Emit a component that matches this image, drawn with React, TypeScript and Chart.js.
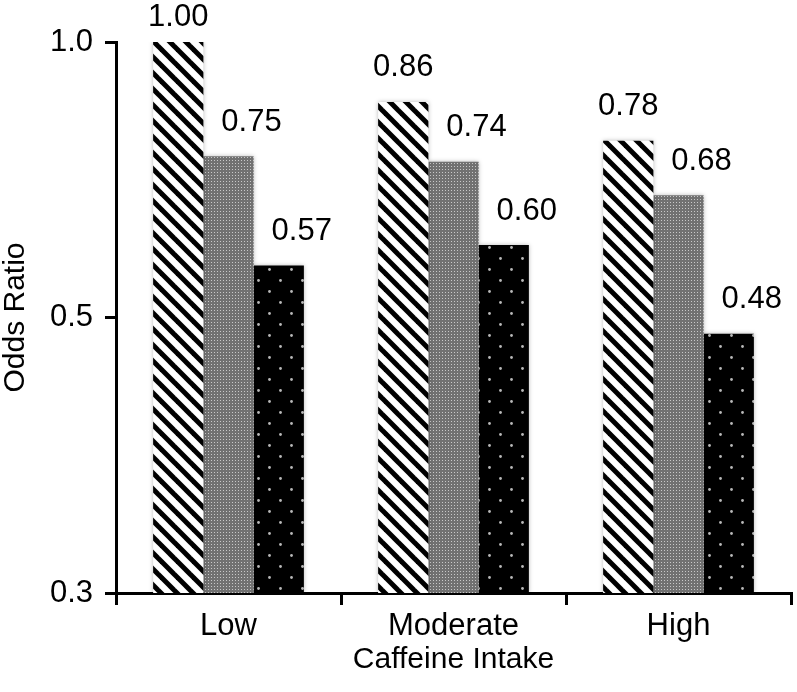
import { useEffect, useRef } from "react";
import { Chart, registerables } from "chart.js";

Chart.register(...registerables);

const categories = ["Low", "Moderate", "High"];
const series1 = [1.0, 0.86, 0.78];
const series2 = [0.75, 0.74, 0.68];
const series3 = [0.57, 0.6, 0.48];
const yTickValues = [0.25, 0.5, 1.0];
const yTickLabels = ["0.3", "0.5", "1.0"];

const FONT = "'Liberation Sans', Arial, Helvetica, sans-serif";

function makeStripes(): CanvasPattern | string {
  const P = 16;
  const c = document.createElement("canvas");
  c.width = P;
  c.height = P;
  const g = c.getContext("2d");
  if (!g) return "#fff";
  g.fillStyle = "#ffffff";
  g.fillRect(0, 0, P, P);
  g.strokeStyle = "#000000";
  g.lineWidth = 5;
  for (let k = -2; k <= 2; k++) {
    g.beginPath();
    g.moveTo(-P, -P + k * P);
    g.lineTo(2 * P, 2 * P + k * P);
    g.stroke();
  }
  return g.createPattern(c, "repeat") || "#fff";
}

function makeGrey(): CanvasPattern | string {
  const c = document.createElement("canvas");
  c.width = 3;
  c.height = 3;
  const g = c.getContext("2d");
  if (!g) return "#888";
  g.fillStyle = "#717171";
  g.fillRect(0, 0, 3, 3);
  g.fillStyle = "#c8c8c8";
  g.fillRect(1, 1, 1, 1);
  return g.createPattern(c, "repeat") || "#888";
}

function makeDots(): CanvasPattern | string {
  const S = 22;
  const c = document.createElement("canvas");
  c.width = S;
  c.height = S;
  const g = c.getContext("2d");
  if (!g) return "#000";
  g.fillStyle = "#000000";
  g.fillRect(0, 0, S, S);
  g.fillStyle = "#b8b8b8";
  g.beginPath();
  g.arc(5.5, 5.5, 1.4, 0, Math.PI * 2);
  g.fill();
  g.beginPath();
  g.arc(16.5, 16.5, 1.4, 0, Math.PI * 2);
  g.fill();
  return g.createPattern(c, "repeat") || "#000";
}

const barShadow = {
  id: "barShadow",
  beforeDatasetsDraw(chart: any) {
    const ctx = chart.ctx;
    ctx.save();
    ctx.shadowColor = "rgba(0,0,0,0.28)";
    ctx.shadowBlur = 4;
    ctx.shadowOffsetX = 0;
    ctx.shadowOffsetY = 0;
  },
  afterDatasetsDraw(chart: any) {
    chart.ctx.restore();
  },
};

const valueLabels = {
  id: "valueLabels",
  afterDatasetsDraw(chart: any) {
    const ctx = chart.ctx;
    ctx.save();
    ctx.shadowColor = "transparent";
    ctx.shadowBlur = 0;
    ctx.font = `31px ${FONT}`;
    ctx.fillStyle = "#000";
    ctx.textAlign = "center";
    ctx.textBaseline = "middle";
    chart.data.datasets.forEach((ds: any, i: number) => {
      const meta = chart.getDatasetMeta(i);
      const dx = i === 0 ? 0 : 23;
      meta.data.forEach((el: any, j: number) => {
        const v = ds.data[j] as number;
        const y = Math.max(el.y - 34, 17);
        ctx.fillText(v.toFixed(2), el.x + dx, y);
      });
    });
    ctx.restore();
  },
};

export default function App() {
  const ref = useRef<HTMLCanvasElement | null>(null);

  useEffect(() => {
    if (!ref.current) return;
    Chart.defaults.font.family = FONT;
    const chart = new Chart(ref.current, {
      type: "bar",
      data: {
        labels: categories,
        datasets: [
          { label: "Series 1", data: series1, backgroundColor: makeStripes() as any, borderWidth: 0 },
          { label: "Series 2", data: series2, backgroundColor: makeGrey() as any, borderWidth: 0 },
          { label: "Series 3", data: series3, backgroundColor: makeDots() as any, borderWidth: 0 },
        ],
      },
      options: {
        animation: false,
        responsive: false,
        devicePixelRatio: 1,
        layout: { padding: { top: 42, right: 6, bottom: 0, left: 0 } },
        plugins: { legend: { display: false }, tooltip: { enabled: false } },
        datasets: { bar: { categoryPercentage: 0.67, barPercentage: 1.0 } },
        scales: {
          x: {
            type: "category",
            offset: true,
            z: 1,
            grid: {
              display: true,
              drawOnChartArea: false,
              drawTicks: true,
              tickLength: 12,
              offset: true,
              color: "#000",
              lineWidth: 3,
            },
            border: { display: true, color: "#000", width: 3 },
            ticks: { color: "#000", font: { size: 31 }, padding: 3 },
            title: {
              display: true,
              text: "Caffeine Intake",
              color: "#000",
              font: { size: 30 },
              padding: { top: 0, bottom: 14 },
            },
            afterFit: (s: any) => {
              s.height = 99;
            },
          },
          y: {
            type: "logarithmic",
            min: 0.25,
            max: 1,
            z: 1,
            afterBuildTicks: (s: any) => {
              s.ticks = yTickValues.map((v) => ({ value: v }));
            },
            grid: {
              display: true,
              drawOnChartArea: false,
              drawTicks: true,
              tickLength: 11,
              color: "#000",
              lineWidth: 3,
            },
            border: { display: true, color: "#000", width: 3 },
            ticks: {
              color: "#000",
              font: { size: 31 },
              padding: 12,
              autoSkip: false,
              callback: (v: any) => {
                const k = yTickValues.indexOf(Number(v));
                return k >= 0 ? yTickLabels[k] : "";
              },
            },
            title: {
              display: true,
              text: "Odds Ratio",
              color: "#000",
              font: { size: 30, lineHeight: 1.07 },
              padding: { top: 0, bottom: 0 },
            },
            afterFit: (s: any) => {
              s.width = 116;
            },
          },
        },
      },
      plugins: [barShadow, valueLabels],
    });
    return () => chart.destroy();
  }, []);

  return (
    <div style={{ position: "absolute", left: 0, top: 0, width: 797, height: 692, background: "#fff" }}>
      <canvas ref={ref} width={797} height={692} />
    </div>
  );
}
